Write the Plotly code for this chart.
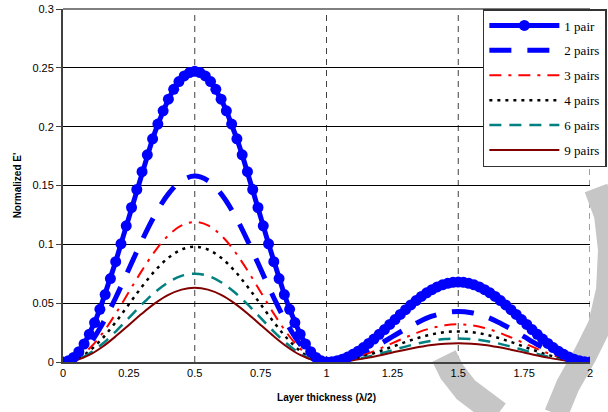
import plotly.graph_objects as go

# ---- data ----
x_fine = [round(i * 0.02, 2) for i in range(101)]
x_coarse = [round(i * 0.05, 2) for i in range(41)]

pair1_first = [0, 0.001, 0.0039, 0.0087, 0.0153, 0.0236, 0.0335, 0.0448, 0.0573, 0.0709,
               0.0853, 0.1004, 0.1157, 0.1313, 0.1466, 0.1617, 0.1761, 0.1897, 0.2022, 0.2135,
               0.2234, 0.2317, 0.2383, 0.2431, 0.2460, 0.247]
pair1_second = [0.0003, 0.0011, 0.0024, 0.0042, 0.0065, 0.0092, 0.0123, 0.0158, 0.0195,
                0.0235, 0.0276, 0.0319, 0.0361, 0.0404, 0.0445, 0.0485, 0.0522, 0.0557, 0.0588,
                0.0615, 0.0638, 0.0656, 0.0669, 0.0677, 0.068]
pair1 = (pair1_first + pair1_first[-2::-1] + pair1_second + pair1_second[-2::-1] + [0])[:101]

pairs2 = [0, .0039, .0151, .0326, .0546, .0790, .1034, .1254, .1429, .1541, .158,
          .1541, .1429, .1254, .1034, .0790, .0546, .0326, .0151, .0039, 0,
          .0011, .0041, .0089, .0149, .0215, .0281, .0341, .0389, .0419, .043,
          .0419, .0389, .0341, .0281, .0215, .0149, .0089, .0041, .0011, 0]
pairs3 = [0, .0029, .0114, .0245, .0411, .0595, .0779, .0945, .1076, .1161, .119,
          .1161, .1076, .0945, .0779, .0595, .0411, .0245, .0114, .0029, 0,
          .0008, .0031, .0066, .0111, .016, .0209, .0254, .0289, .0312, .032,
          .0312, .0289, .0254, .0209, .016, .0111, .0066, .0031, .0008, 0]
pairs4 = [0, .0024, .0094, .0202, .0339, .049, .0641, .0778, .0886, .0956, .098,
          .0956, .0886, .0778, .0641, .049, .0339, .0202, .0094, .0024, 0,
          .0006, .0025, .0054, .009, .013, .017, .0206, .0235, .0254, .026,
          .0254, .0235, .0206, .017, .013, .009, .0054, .0025, .0006, 0]
pairs6 = [0, .0018, .0072, .0155, .0259, .0375, .0491, .0595, .0678, .0732, .075,
          .0732, .0678, .0595, .0491, .0375, .0259, .0155, .0072, .0018, 0,
          .0005, .0019, .0041, .0069, .01, .0131, .0159, .0181, .0195, .02,
          .0195, .0181, .0159, .0131, .01, .0069, .0041, .0019, .0005, 0]
pairs9 = [0, .0015, .006, .013, .0218, .0315, .0412, .0500, .0570, .0615, .063,
          .0615, .0570, .0500, .0412, .0315, .0218, .013, .006, .0015, 0,
          .0004, .0015, .0033, .0055, .008, .0105, .0127, .0145, .0156, .016,
          .0156, .0145, .0127, .0105, .008, .0055, .0033, .0015, .0004, 0]

x_ticks = [0, 0.25, 0.5, 0.75, 1, 1.25, 1.5, 1.75, 2]
x_tick_text = ["0", "0.25", "0.5", "0.75", "1", "1.25", "1.5", "1.75", "2"]
y_ticks = [0, 0.05, 0.1, 0.15, 0.2, 0.25, 0.3]
y_tick_text = ["0", "0.05", "0.1", "0.15", "0.2", "0.25", "0.3"]
vlines = [0.5, 1, 1.5, 2]

fig = go.Figure()

fig.add_trace(go.Scatter(x=x_coarse, y=pairs2, name="2 pairs", mode="lines", legendrank=2,
                         legendgroup="g2",
                         line=dict(color="#0000FF", width=5, dash="22px,16px", shape="spline")))
fig.add_trace(go.Scatter(x=x_coarse, y=pairs3, name="3 pairs", mode="lines", legendrank=3,
                         legendgroup="g3",
                         line=dict(color="#FF0000", width=2, dash="12px,7px,3px,7px", shape="spline")))
fig.add_trace(go.Scatter(x=x_coarse, y=pairs4, name="4 pairs", mode="lines", legendrank=4,
                         legendgroup="g4",
                         line=dict(color="#000000", width=2.5, dash="3px,5px", shape="spline")))
fig.add_trace(go.Scatter(x=x_coarse, y=pairs6, name="6 pairs", mode="lines", legendrank=5,
                         legendgroup="g6",
                         line=dict(color="#008080", width=2.5, dash="12px,8px", shape="spline")))
fig.add_trace(go.Scatter(x=x_coarse, y=pairs9, name="9 pairs", mode="lines", legendrank=6,
                         legendgroup="g9",
                         line=dict(color="#800000", width=2, shape="spline")))
fig.add_trace(go.Scatter(x=x_fine, y=pair1, name="1 pair", mode="lines+markers", legendrank=1,
                         legendgroup="g1",
                         line=dict(color="#0000FF", width=5),
                         marker=dict(color="#0000FF", size=11, symbol="circle")))

for xv in vlines:
    fig.add_shape(type="line", xref="x", yref="paper", x0=xv, x1=xv, y0=0, y1=1,
                  line=dict(color="#404040", width=1, dash="6px,5px"), layer="below")


# watermark (light grey strokes in the lower right corner), pixel -> paper coords
def px(xp, yp):
    return (xp - 63) / 527, (362 - yp) / 353


def path(points):
    s = ""
    for i, (a, b) in enumerate(points):
        u, v = px(a, b)
        s += ("M" if i == 0 else "L") + f"{u:.4f},{v:.4f} "
    return s


wm_color = "#c6c6c6"
fig.add_shape(type="path", xref="paper", yref="paper",
              path=path([(596, 188), (606, 215), (610, 250), (608, 290), (600, 325),
                         (585, 355), (568, 385), (556, 414)]),
              line=dict(color=wm_color, width=24), layer="below")
fig.add_shape(type="path", xref="paper", yref="paper",
              path=path([(444, 356), (452, 372), (466, 390), (482, 402), (498, 414)]),
              line=dict(color=wm_color, width=26), layer="below")

fig.update_layout(
    width=608, height=412,
    margin=dict(l=63, r=18, t=9, b=50, autoexpand=False),
    paper_bgcolor="white", plot_bgcolor="white",
    font=dict(family="Liberation Sans, Arial", size=11, color="black"),
    showlegend=True,
    legend=dict(x=1.032, xanchor="right", y=1.0, yanchor="top",
                bgcolor="white", bordercolor="#333333", borderwidth=1.5,
                font=dict(family="Liberation Serif, Times New Roman", size=13, color="black"),
                itemwidth=70, tracegroupgap=5, traceorder="grouped"),
    xaxis=dict(range=[0, 2], tickvals=x_ticks, ticktext=x_tick_text, showgrid=False,
               zeroline=False, showline=True, linecolor="#404040", linewidth=2,
               ticks="", ticklen=0,
               title=dict(text="<b>Layer thickness (λ/2)</b>", font=dict(size=10), standoff=16)),
    yaxis=dict(range=[0, 0.3], tickvals=y_ticks, ticktext=y_tick_text, showgrid=True,
               gridcolor="black", gridwidth=1, zeroline=False, showline=True,
               linecolor="#404040", linewidth=2, ticks="outside", ticklen=5, tickcolor="#404040",
               title=dict(text="<b>Normalized E'</b>", font=dict(size=10), standoff=9)),
)
# top border
fig.add_shape(type="line", xref="paper", yref="paper", x0=0, x1=1, y0=1, y1=1,
              line=dict(color="#808080", width=2))

fig.write_html("out.html", config={"displayModeBar": False},
               post_script="document.body.style.margin='0';document.body.style.padding='0';")
